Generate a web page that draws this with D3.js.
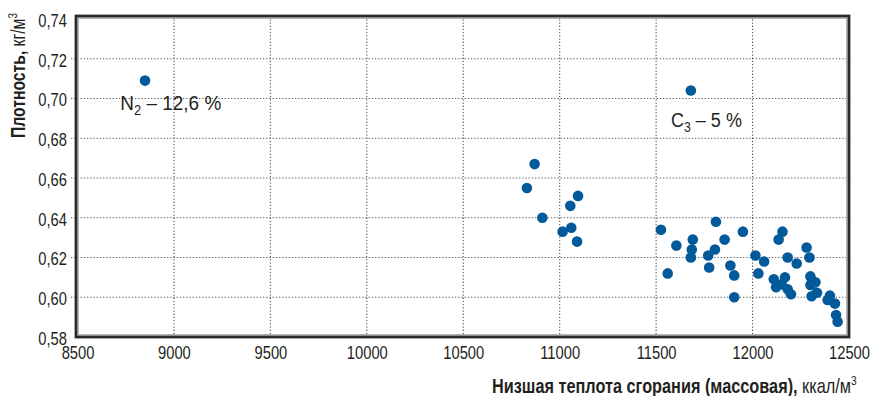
<!DOCTYPE html>
<html>
<head>
<meta charset="utf-8">
<script src="https://cdn.jsdelivr.net/npm/d3@7"></script>
<style>
  html, body { margin: 0; padding: 0; background: #fff; }
  svg { display: block; }
  text { font-family: "Liberation Sans", Arial, sans-serif; fill: #231f20; }
</style>
</head>
<body>
<svg id="chart" width="871" height="396"></svg>
<script>
// Lower heating value (kcal/m3) of each gas sample
const heatValues = [
  8850, 11680,
  10870, 10830, 11095, 11055, 10910, 11060, 11015, 11090,
  11525, 11810, 11950, 11855, 11690, 11605, 11685, 11805, 11770, 11680,
  12015, 11775, 11885, 11905, 11560, 12030, 11905,
  12155, 12135, 12280, 12295, 12060, 12182, 12229,
  12110, 12168, 12151, 12122, 12182, 12199,
  12300, 12326, 12300, 12334, 12306,
  12401, 12389, 12427, 12433, 12441
];
// Density (kg/m3) of each gas sample
const densities = [
  0.709, 0.704,
  0.667, 0.655, 0.651, 0.646, 0.640, 0.635, 0.633, 0.628,
  0.634, 0.638, 0.633, 0.629, 0.629, 0.626, 0.624, 0.624, 0.621, 0.620,
  0.621, 0.615, 0.616, 0.611, 0.612, 0.612, 0.600,
  0.633, 0.629, 0.625, 0.620, 0.618, 0.620, 0.617,
  0.609, 0.610, 0.6065, 0.605, 0.604, 0.6015,
  0.6105, 0.6075, 0.6062, 0.6023, 0.6005,
  0.6008, 0.5986, 0.5968, 0.5911, 0.5877
];

const xTicks = [8500, 9000, 9500, 10000, 10500, 11000, 11500, 12000, 12500];
const yTicks = [0.58, 0.60, 0.62, 0.64, 0.66, 0.68, 0.70, 0.72, 0.74];

// Notes beside the two outlying samples
const noteMain = ["N", "C"];
const noteSub = ["2", "3"];
const noteRest = [" – 12,6 %", " – 5 %"];
const noteX = [8722, 11577];
const noteY = [0.6942, 0.6857];

const svg = d3.select("#chart");
const frame = { left: 76, right: 849, top: 16, bottom: 337 };

const x = d3.scaleLinear().domain([8500, 12500]).range([77.5, 849]);
const y = d3.scaleLinear().domain([0.58, 0.74]).range([337, 19]);

const fmtY = v => d3.format(".2f")(v).replace(".", ",");

// condensed lettering: squeeze a text horizontally to a given advance width
function fitWidth(sel, width) {
  const w = sel.node().getBBox().width;
  return width / w;
}

// dotted grid
const grid = svg.append("g")
  .attr("stroke", "#5a5a5a")
  .attr("stroke-width", 1.1)
  .attr("stroke-dasharray", "1.3,1.9");
grid.selectAll("line.h")
  .data(yTicks.filter(v => v > 0.58 && v < 0.74))
  .join("line")
  .attr("class", "h")
  .attr("x1", frame.left - 5).attr("x2", frame.right + 3)
  .attr("y1", d => y(d)).attr("y2", d => y(d));
grid.selectAll("line.v")
  .data(xTicks.filter(v => v > 8500 && v < 12500))
  .join("line")
  .attr("class", "v")
  .attr("y1", frame.top).attr("y2", frame.bottom)
  .attr("x1", d => x(d)).attr("x2", d => x(d));

// x axis tick labels
const xAxis = d3.axisBottom(x).tickValues(xTicks).tickFormat(d3.format("d")).tickSize(0).tickPadding(0);
const gx = svg.append("g").attr("transform", `translate(0,${359})`).call(xAxis);
gx.attr("font-family", null).attr("font-size", null);
gx.select(".domain").remove();
gx.selectAll("text")
  .attr("font-size", 17.5)
  .attr("fill", "#231f20")
  .attr("dy", 0)
  .attr("y", 0);
const tickK = fitWidth(gx.select("text"), 33);
gx.selectAll("text").attr("transform", `scale(${tickK},1)`);

// y axis tick labels
const yAxis = d3.axisLeft(y).tickValues(yTicks).tickFormat(fmtY).tickSize(0).tickPadding(0);
const gy = svg.append("g").attr("transform", `translate(${67},0)`).call(yAxis);
gy.attr("font-family", null).attr("font-size", null);
gy.select(".domain").remove();
gy.selectAll("text")
  .attr("font-size", 17.5)
  .attr("fill", "#231f20")
  .attr("dy", "0.36em")
  .attr("y", 1)
  .attr("transform", `scale(${tickK},1)`);

// frame with inner shade
svg.append("rect")
  .attr("x", frame.left + 2.2).attr("y", frame.top + 2.2)
  .attr("width", frame.right - frame.left - 4.4)
  .attr("height", frame.bottom - frame.top - 4.4)
  .attr("fill", "none").attr("stroke", "#b5b5b5").attr("stroke-width", 1.6);
svg.append("rect")
  .attr("x", frame.left).attr("y", frame.top)
  .attr("width", frame.right - frame.left)
  .attr("height", frame.bottom - frame.top)
  .attr("fill", "none").attr("stroke", "#2a2a2a").attr("stroke-width", 2.8);

// samples
svg.append("g")
  .selectAll("circle")
  .data(heatValues.map((h, i) => [h, densities[i]]))
  .join("circle")
  .attr("cx", d => x(d[0]))
  .attr("cy", d => y(d[1]))
  .attr("r", 5.3)
  .attr("fill", "#035a9a");

// notes
const noteWidth = [101, 71];
noteMain.forEach((m, i) => {
  const g = svg.append("g");
  const t = g.append("text").attr("font-size", 20.5);
  t.append("tspan").text(m);
  t.append("tspan").attr("font-size", 14).attr("dy", 5).text(noteSub[i]);
  t.append("tspan").attr("dy", -5).text(noteRest[i]);
  const k = fitWidth(t, noteWidth[i]);
  g.attr("transform", `translate(${x(noteX[i])},${y(noteY[i])}) scale(${k},1)`);
});

// x axis title
const xg = svg.append("g");
const xt = xg.append("text").attr("font-size", 20.5);
xt.append("tspan").attr("font-weight", "bold").text("Низшая теплота сгорания (массовая),");
xt.append("tspan").text(" ккал/м");
xt.append("tspan").attr("font-size", 13).attr("dy", -8).text("3");
xg.attr("transform", `translate(492,393) scale(${fitWidth(xt, 365)},1)`);

// y axis title
const yg = svg.append("g");
const yt = yg.append("text").attr("font-size", 20.5);
yt.append("tspan").attr("font-weight", "bold").text("Плотность,");
yt.append("tspan").text(" кг/м");
yt.append("tspan").attr("font-size", 13).attr("dy", -8).text("3");
yg.attr("transform", `translate(25,138) rotate(-90) scale(${fitWidth(yt, 125)},1)`);
</script>
</body>
</html>
